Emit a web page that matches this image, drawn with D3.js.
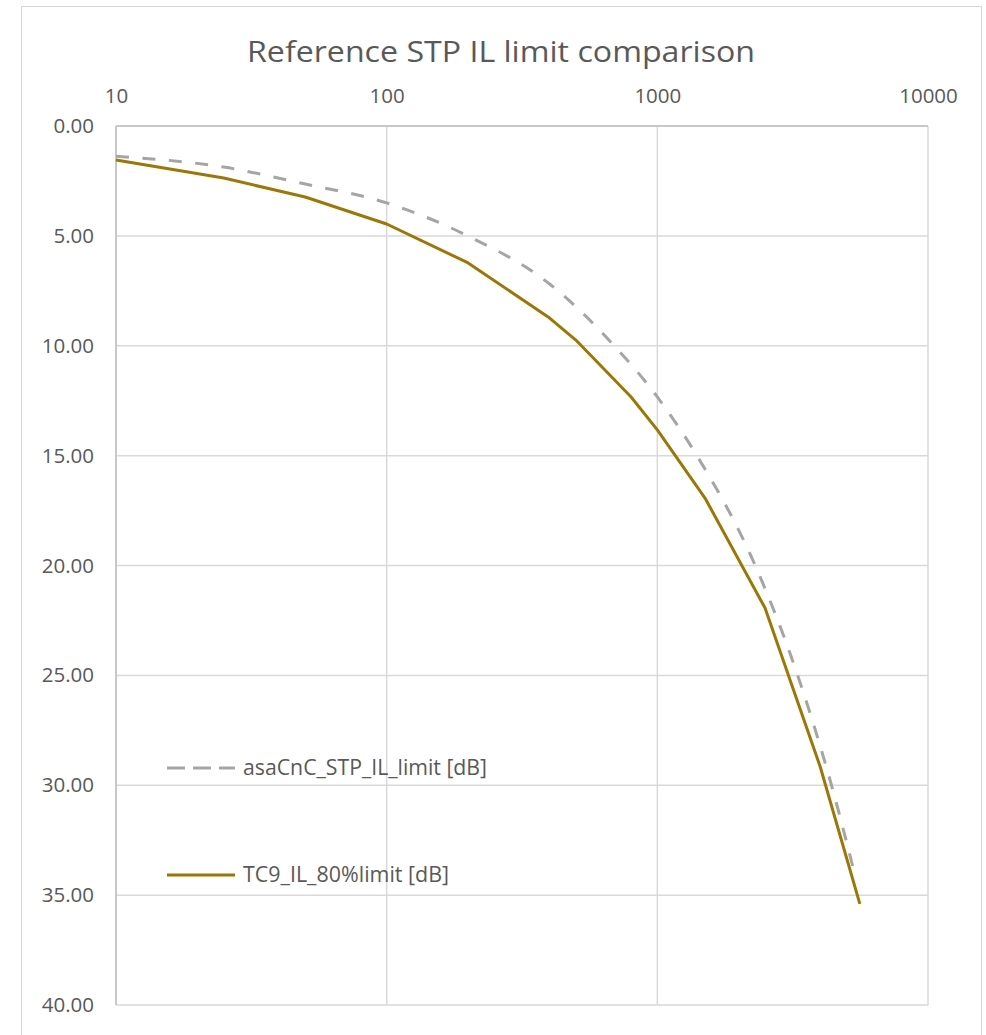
<!DOCTYPE html>
<html>
<head>
<meta charset="utf-8">
<script src="https://cdn.jsdelivr.net/npm/d3@7"></script>
<style>
  html, body { margin: 0; padding: 0; background: #fff; }
  svg { display: block; font-family: "Open Sans", sans-serif; }
</style>
</head>
<body>
<svg id="chart" width="986" height="1035"></svg>
<script>
// Frequency [MHz] and insertion-loss limit [dB] for each series
const asaFreq = [10, 25, 50, 100, 200, 400, 700, 1000, 1400, 2300, 3300, 4400, 5400];
const asaIL   = [1.38, 1.87, 2.64, 3.5, 5.01, 7.19, 10.06, 12.33, 15.0, 20.0, 25.0, 30.0, 34.2];

const tc9Freq = [10, 25, 50, 100, 200, 400, 500, 800, 1000, 1500, 2500, 4000, 5600];
const tc9IL   = [1.55, 2.37, 3.23, 4.46, 6.23, 8.74, 9.74, 12.33, 13.83, 16.93, 21.93, 29.17, 35.4];

const xTicks = [10, 100, 1000, 10000];
const yTicks = [0, 5, 10, 15, 20, 25, 30, 35, 40];

const seriesNames = ["asaCnC_STP_IL_limit [dB]", "TC9_IL_80%limit [dB]"];
const chartTitle = "Reference STP IL limit comparison";

const asaSeries = asaFreq.map((f, i) => ({ f, v: asaIL[i] }));
const tc9Series = tc9Freq.map((f, i) => ({ f, v: tc9IL[i] }));

const svg = d3.select("#chart");
const plot = { left: 116, right: 928, top: 126, bottom: 1005 };
const textColor = "#595959";
const gridColor = "#d9d9d9";
const gold = "#9e7700";
const grey = "#a5a5a5";

// Chart area frame
svg.append("rect")
  .attr("x", 21.5).attr("y", 6.5)
  .attr("width", 960).attr("height", 1040)
  .attr("fill", "#fff").attr("stroke", gridColor).attr("stroke-width", 1);

const x = d3.scaleLog().domain([10, 10000]).range([plot.left, plot.right]);
const y = d3.scaleLinear().domain([0, 40]).range([plot.top, plot.bottom]);

// Gridlines
const grid = svg.append("g").attr("stroke", gridColor).attr("stroke-width", 1.5);
grid.selectAll("line.h").data(yTicks).join("line")
  .attr("class", "h")
  .attr("x1", plot.left).attr("x2", plot.right)
  .attr("y1", d => y(d)).attr("y2", d => y(d));
grid.selectAll("line.v").data(xTicks).join("line")
  .attr("class", "v")
  .attr("x1", d => x(d)).attr("x2", d => x(d))
  .attr("y1", plot.top).attr("y2", plot.bottom);

// Axis lines (left and top)
svg.append("line").attr("x1", plot.left).attr("x2", plot.left)
  .attr("y1", plot.top).attr("y2", plot.bottom)
  .attr("stroke", "#bfbfbf").attr("stroke-width", 1.5);
svg.append("line").attr("x1", plot.left).attr("x2", plot.right)
  .attr("y1", plot.top).attr("y2", plot.top)
  .attr("stroke", "#bfbfbf").attr("stroke-width", 1.5);

// Top x axis labels
const xAxis = d3.axisTop(x).tickValues(xTicks).tickFormat(d3.format("d")).tickSize(0).tickPadding(0);
const gx = svg.append("g").attr("transform", `translate(0,${plot.top})`).call(xAxis);
gx.select(".domain").remove();
gx.selectAll("text")
  .attr("y", -23).attr("dy", 0)
  .attr("fill", textColor).attr("font-size", 20.5)
  .attr("font-family", "Open Sans, sans-serif");

// Left y axis labels (reversed, 0 at top)
const yAxis = d3.axisLeft(y).tickValues(yTicks).tickFormat(d3.format(".2f")).tickSize(0).tickPadding(22);
const gy = svg.append("g").attr("transform", `translate(${plot.left},0)`).call(yAxis);
gy.select(".domain").remove();
gy.selectAll("text")
  .attr("fill", textColor).attr("font-size", 20.5)
  .attr("font-family", "Open Sans, sans-serif");

// Title
svg.append("text")
  .attr("x", 501).attr("y", 62)
  .attr("text-anchor", "middle")
  .attr("fill", textColor).attr("font-size", 29)
  .attr("textLength", 508).attr("lengthAdjust", "spacingAndGlyphs")
  .text(chartTitle);

const line = d3.line().x(d => x(d.f)).y(d => y(d.v));
const smoothLine = d3.line().x(d => x(d.f)).y(d => y(d.v)).curve(d3.curveMonotoneX);

svg.append("path").datum(asaSeries)
  .attr("d", smoothLine).attr("fill", "none")
  .attr("stroke", grey).attr("stroke-width", 3)
  .attr("stroke-dasharray", "13,13.5");

svg.append("path").datum(tc9Series)
  .attr("d", line).attr("fill", "none")
  .attr("stroke", gold).attr("stroke-width", 3)
  .attr("stroke-linejoin", "round");

// Legend inside the plot area
const legend = svg.append("g");
const legendItems = [
  { name: seriesNames[0], color: grey, dash: "18,8", y: 768, width: 244 },
  { name: seriesNames[1], color: gold, dash: null, y: 875, width: 206 }
];
legendItems.forEach(it => {
  legend.append("line")
    .attr("x1", 167).attr("x2", 235).attr("y1", it.y).attr("y2", it.y)
    .attr("stroke", it.color).attr("stroke-width", 3)
    .attr("stroke-dasharray", it.dash);
  legend.append("text")
    .attr("x", 243).attr("y", it.y).attr("dy", "0.35em")
    .attr("fill", textColor).attr("font-size", 21)
    .attr("textLength", it.width).attr("lengthAdjust", "spacingAndGlyphs")
    .text(it.name);
});
</script>
</body>
</html>
